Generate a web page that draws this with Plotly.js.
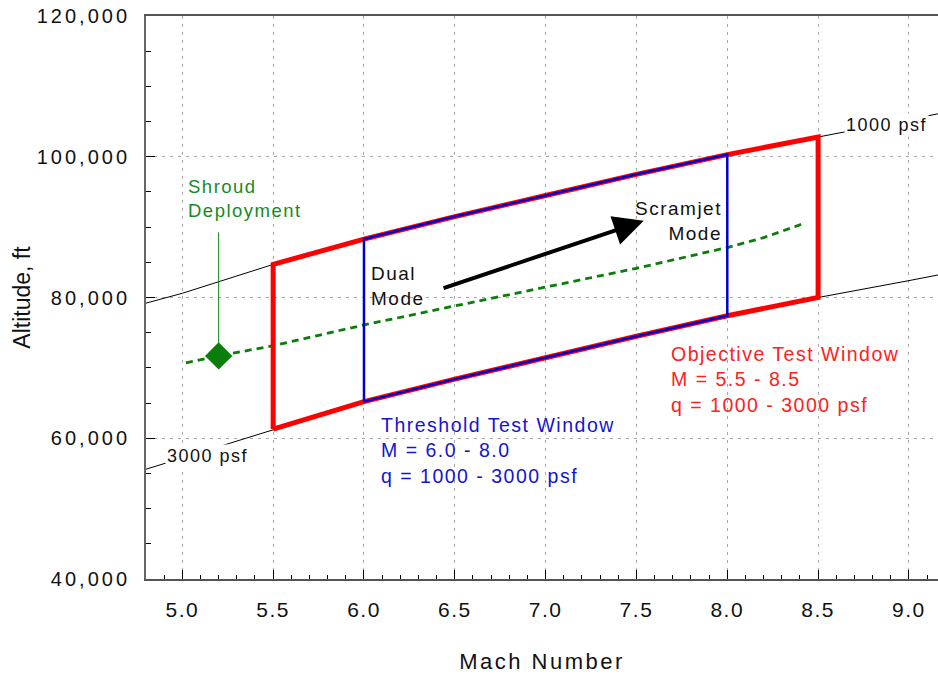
<!DOCTYPE html>
<html>
<head>
<meta charset="utf-8">
<script src="https://cdn.plot.ly/plotly-3.0.1.min.js"></script>
<style>
  html, body { margin: 0; padding: 0; background: #fff; }
  #chart { width: 938px; height: 674px; }
  .xtick text, text.xtick { letter-spacing: 1.5px; }
  .ytick text, text.ytick { letter-spacing: 3px; }
  .xtitle { letter-spacing: 2.5px; }
  .annotation-text { letter-spacing: 1.5px; }
</style>
</head>
<body>
<div id="chart"></div>
<script>
// Mach numbers at which the constant dynamic-pressure lines are sampled
const mach = [4.8, 5.0, 5.5, 6.0, 6.5, 7.0, 7.5, 8.0, 8.5, 9.0, 9.16];
// Altitude (ft) along the q = 1000 psf and q = 3000 psf lines
const alt1000 = [79200, 80600, 84700, 88300, 91500, 94500, 97500, 100300, 102800, 105200, 106100];
const alt3000 = [55600, 57200, 61300, 65200, 68400, 71500, 74500, 77400, 80000, 82400, 83200];

// Mach limits of the two test windows
const objectiveMach = [5.5, 8.5];
const thresholdMach = [6.0, 8.0];

// Flight trajectory after shroud deployment
const trajMach = [5.02, 5.2, 5.5, 6.0, 6.5, 7.0, 7.5, 8.0, 8.2, 8.43];
const trajAlt = [70700, 71700, 73150, 76100, 78800, 81450, 84150, 87100, 88500, 90600];

// Shroud deployment point
const shroudMach = [5.2];
const shroudAlt = [71700];

// Dual-mode to scramjet-mode transition arrow (tail, head)
const arrowMach = [6.43, 7.54];
const arrowAlt = [81250, 90900];

const FONT = 'Liberation Sans, Arial, Helvetica, sans-serif';
const RED = '#ff0000';
const BLUE = '#0000cc';
const GREEN = '#0a7d0a';

// Closed outline bounded by the 1000 psf (top) and 3000 psf (bottom) lines
function windowOutline(lo, hi) {
  const idx = [];
  mach.forEach((m, i) => { if (m >= lo - 1e-9 && m <= hi + 1e-9) idx.push(i); });
  const xs = [], ys = [];
  xs.push(mach[idx[0]]); ys.push(alt3000[idx[0]]);
  idx.forEach(i => { xs.push(mach[i]); ys.push(alt1000[i]); });
  idx.slice().reverse().forEach(i => { xs.push(mach[i]); ys.push(alt3000[i]); });
  return { x: xs, y: ys };
}

const obj = windowOutline(objectiveMach[0], objectiveMach[1]);
const thr = windowOutline(thresholdMach[0], thresholdMach[1]);

const traces = [
  { x: mach, y: alt1000, mode: 'lines', line: { color: '#000', width: 1 }, hoverinfo: 'skip' },
  { x: mach, y: alt3000, mode: 'lines', line: { color: '#000', width: 1 }, hoverinfo: 'skip' },
  { x: trajMach, y: trajAlt, mode: 'lines', line: { color: GREEN, width: 2.8, dash: '7px,5px' }, hoverinfo: 'skip' },
  { x: obj.x, y: obj.y, mode: 'lines', line: { color: RED, width: 5 }, hoverinfo: 'skip' },
  { x: thr.x, y: thr.y, mode: 'lines', line: { color: BLUE, width: 2.5 }, hoverinfo: 'skip' },
  { x: shroudMach, y: shroudAlt, mode: 'markers',
    marker: { symbol: 'diamond', size: 21, color: GREEN, line: { width: 0 } }, hoverinfo: 'skip' }
];

const txt = (size, color) => ({ family: FONT, size: size, color: color });

const annotations = [
  // leader from the deployment label down to the marker
  { x: shroudMach[0], y: shroudAlt[0], xref: 'x', yref: 'y', ax: 0, ay: -132,
    text: ' ', showarrow: true, arrowhead: 0, arrowwidth: 1, arrowcolor: GREEN, standoff: 13 },
  { x: 5.021, y: 94000, xref: 'x', yref: 'y', xanchor: 'left', yanchor: 'middle', align: 'left',
    text: 'Shroud<br>Deployment', showarrow: false, font: txt(18.5, '#168a26') },
  { x: 6.027, y: 81650, xref: 'x', yref: 'y', xanchor: 'left', yanchor: 'middle', align: 'left',
    text: 'Dual<br>Mode', showarrow: false, font: txt(19, '#111') },
  { x: 7.98, y: 90900, xref: 'x', yref: 'y', xanchor: 'right', yanchor: 'middle', align: 'right',
    text: 'Scramjet<br>Mode', showarrow: false, font: txt(19, '#111') },
  { x: arrowMach[1], y: arrowAlt[1], ax: arrowMach[0], ay: arrowAlt[0],
    xref: 'x', yref: 'y', axref: 'x', ayref: 'y', text: '', showarrow: true,
    arrowhead: 2, arrowsize: 1.5, arrowwidth: 4, arrowcolor: '#000' },
  { x: 7.678, y: 68280, xref: 'x', yref: 'y', xanchor: 'left', yanchor: 'middle', align: 'left',
    text: 'Objective Test Window<br>M = 5.5 - 8.5<br>q = 1000 - 3000 psf',
    showarrow: false, font: txt(19.5, '#ff2020') },
  { x: 6.082, y: 58190, xref: 'x', yref: 'y', xanchor: 'left', yanchor: 'middle', align: 'left',
    text: 'Threshold Test Window<br>M = 6.0 - 8.0<br>q = 1000 - 3000 psf',
    showarrow: false, font: txt(19.5, '#1414d2') },
  { x: 8.875, y: 104470, xref: 'x', yref: 'y', xanchor: 'center', yanchor: 'middle',
    text: '1000 psf', showarrow: false, bgcolor: '#fff', borderpad: 1, font: txt(18, '#111') },
  { x: 5.140, y: 57480, xref: 'x', yref: 'y', xanchor: 'center', yanchor: 'middle',
    text: '3000 psf', showarrow: false, bgcolor: '#fff', borderpad: 1, font: txt(18, '#111') }
];

const layout = {
  width: 938,
  height: 674,
  margin: { l: 146, r: 0, t: 16, b: 95 },
  paper_bgcolor: '#fff',
  plot_bgcolor: '#fff',
  showlegend: false,
  font: { family: FONT, color: '#111' },
  xaxis: {
    range: [4.8, 9.16],
    tick0: 5.0, dtick: 0.5, tickformat: '.1f',
    ticks: 'inside', ticklen: 9, tickwidth: 1, tickcolor: '#000',
    minor: { dtick: 0.1, ticks: 'inside', ticklen: 4, tickwidth: 1, tickcolor: '#000', showgrid: false },
    showgrid: true, gridcolor: '#a8a8a8', gridwidth: 1, griddash: '3px,5px',
    showline: true, linecolor: '#555', linewidth: 2, mirror: true,
    zeroline: false,
    tickfont: { family: FONT, size: 21, color: '#111' },
    ticklabelstandoff: 11,
    title: { text: 'Mach Number', font: { family: FONT, size: 22, color: '#111' }, standoff: 34 }
  },
  yaxis: {
    range: [40000, 120000],
    tick0: 40000, dtick: 20000, tickformat: ',d',
    ticks: 'inside', ticklen: 9, tickwidth: 1, tickcolor: '#000',
    minor: { dtick: 5000, ticks: 'inside', ticklen: 5, tickwidth: 1, tickcolor: '#000', showgrid: false },
    showgrid: true, gridcolor: '#a8a8a8', gridwidth: 1, griddash: '3px,5px',
    showline: true, linecolor: '#666', linewidth: 2, mirror: false,
    zeroline: false,
    tickfont: { family: FONT, size: 20, color: '#111' },
    ticklabelstandoff: 10,
    title: { text: 'Altitude, ft', font: { family: FONT, size: 23, color: '#111' }, standoff: 0 }
  },
  annotations: annotations
};

Plotly.newPlot('chart', traces, layout, { staticPlot: true, displayModeBar: false });
</script>
</body>
</html>
